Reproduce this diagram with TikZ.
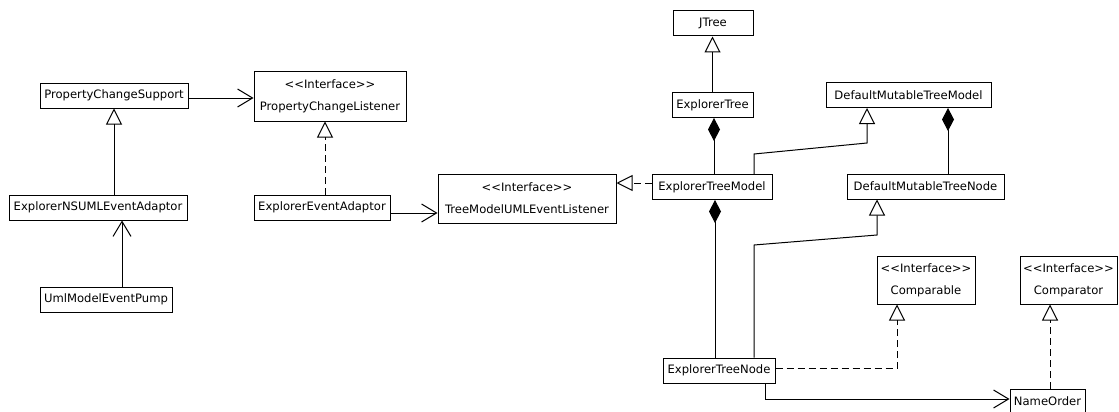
\documentclass[tikz,border=0pt]{standalone}
\usepackage{fontspec}
\setmainfont{DejaVu Sans}[Ligatures=TeXOff]
\usetikzlibrary{arrows.meta}

\tikzset{
  umlclass/.style={draw, line width=1pt, inner sep=0pt, minimum height=25pt,
    align=center, font=\fontsize{11.6}{22}\selectfont},
  umlgen/.style={line width=1pt, -{Triangle[open,length=16pt,width=16pt]}},
  umlreal/.style={umlgen, dash pattern=on 7pt off 4pt},
  umlassoc/.style={line width=1pt, -{Straight Barb[length=15pt,width=18pt]}},
  umlcomp/.style={line width=1pt, -{Diamond[length=23pt,width=12pt]}},
}

\begin{document}
\begin{tikzpicture}[x=1pt,y=-1pt]
			%%%%% START %%%%%
			\useasboundingbox (0,0) rectangle (1119,412);
			
			\node[umlclass, minimum width=148pt] (pcs) at (114,95.5) {PropertyChangeSupport};
			\node[umlclass, minimum width=152pt, minimum height=49pt] (pcl) at (330,96.5) {<<Interface>>\\PropertyChangeListener};
			\node[umlclass, minimum width=178pt] (ensuml) at (98,207.5) {ExplorerNSUMLEventAdaptor};
			\node[umlclass, minimum width=136pt] (eea) at (322,207.5) {ExplorerEventAdaptor};
			\node[umlclass, minimum width=132pt] (pump) at (106,299.5) {UmlModelEventPump};
			\node[umlclass, minimum width=178pt, minimum height=49pt] (tmuel) at (527,198.5) {<<Interface>>\\TreeModelUMLEventListener};
			
			\node[umlclass, minimum width=80pt] (jtree) at (713,23.5) {JTree};
			\node[umlclass, minimum width=81pt] (etree) at (712.5,105) {ExplorerTree};
			\node[umlclass, minimum width=120pt] (etmodel) at (712,187) {ExplorerTreeModel};
			\node[umlclass, minimum width=165pt] (dmtm) at (908.5,95) {DefaultMutableTreeModel};
			\node[umlclass, minimum width=157pt] (dmtn) at (925.5,186.5) {DefaultMutableTreeNode};
			\node[umlclass, minimum width=112pt] (etnode) at (719,370.5) {ExplorerTreeNode};
			\node[umlclass, minimum width=98pt, minimum height=48pt] (comparable) at (926,280) {<<Interface>>\\Comparable};
			\node[umlclass, minimum width=97pt, minimum height=48pt] (comparator) at (1068.5,280) {<<Interface>>\\Comparator};
			\node[umlclass, minimum width=75pt] (nameorder) at (1047.5,401.5) {NameOrder};
			
			\coordinate (etmbend) at (754,154);
			\coordinate (dmtmbend) at (867,143);
			\coordinate (etnbend) at (754,245);
			\coordinate (dmtnbend) at (877,235);
			
			\draw[umlassoc] ([yshift=-2.5pt]pcs.east) -- ([yshift=-2.5pt]pcs.east -| pcl.west);
			\draw[umlgen] (pcs.south |- ensuml.north) -- (pcs.south);
			\draw[umlreal] ([xshift=-5pt]pcl.south |- eea.north) -- ([xshift=-5pt]pcl.south);
			\draw[umlassoc] ([xshift=16pt]pump.north) -- ([xshift=16pt]pump.north |- ensuml.south);
			\draw[umlassoc] ([yshift=-5.5pt]eea.east) -- ([yshift=-5.5pt]eea.east -| tmuel.west);
			\draw[umlreal] ([yshift=4pt]etmodel.west) -- ([yshift=4pt]etmodel.west -| tmuel.east);
			
			\draw[umlgen] (etree.north) -- (etree.north |- jtree.south);
			\draw[umlcomp] ([xshift=2pt]etmodel.north) -- ([xshift=2pt]etmodel.north |- etree.south);
			\draw[umlgen] (etmbend |- etmodel.north) -- (etmbend) -- (dmtmbend) -- (dmtmbend |- dmtm.south);
			\draw[umlcomp] ([xshift=22.5pt]dmtn.north) -- ([xshift=22.5pt]dmtn.north |- dmtm.south);
			\draw[umlcomp] ([xshift=-4pt]etnode.north) -- ([xshift=-4pt]etnode.north |- etmodel.south);
			\draw[umlgen] (etnbend |- etnode.north) -- (etnbend) -- (dmtnbend) -- (dmtnbend |- dmtn.south);
			
			\draw[umlreal] ([yshift=2pt]etnode.east) -| ([xshift=-29pt]comparable.south);
			\draw[umlreal] ([xshift=2.5pt]nameorder.north) -- ([xshift=2.5pt]nameorder.north |- comparator.south);
			\draw[umlassoc] ([xshift=46pt]etnode.south) |- ([yshift=2.5pt]nameorder.west);
			%%%%% END %%%%%
\end{tikzpicture}
\end{document}
